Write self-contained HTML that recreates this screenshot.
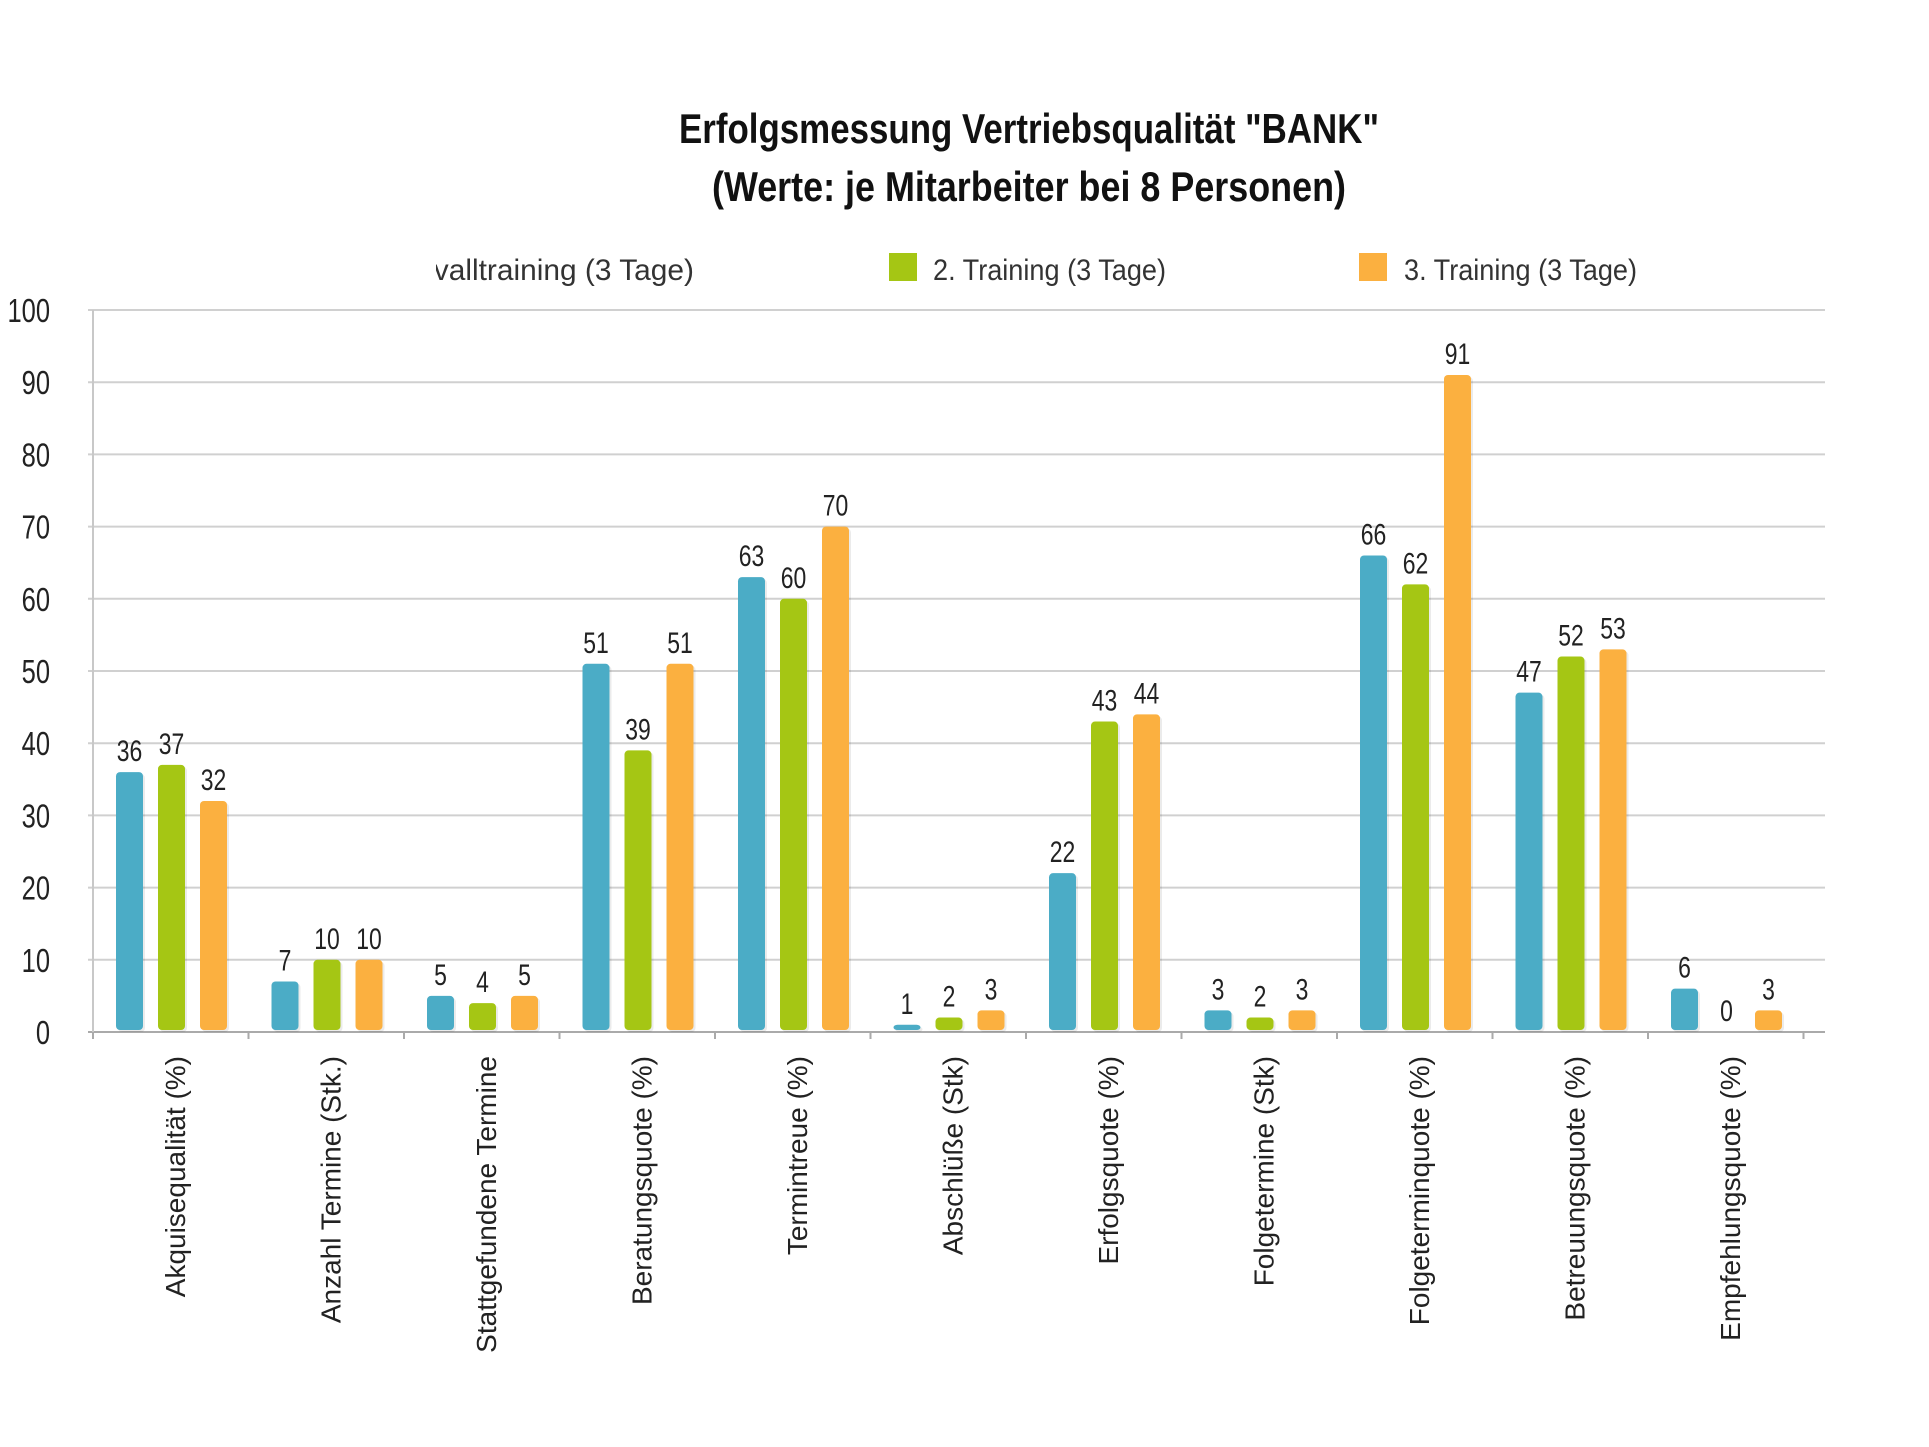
<!DOCTYPE html>
<html><head><meta charset="utf-8"><style>
html,body{margin:0;padding:0;background:#fff;}
svg{display:block;}
text{font-family:"Liberation Sans Narrow","Liberation Sans",sans-serif;}
</style></head><body>
<svg id="chart" width="1929" height="1447" viewBox="0 0 1929 1447" xmlns="http://www.w3.org/2000/svg">
<defs><clipPath id="legclip"><rect x="436" y="240" width="400" height="60"/></clipPath></defs>
<text x="1029" y="143" text-anchor="middle" font-size="42" font-weight="bold" textLength="700" lengthAdjust="spacingAndGlyphs" fill="#111">Erfolgsmessung Vertriebsqualität "BANK"</text>
<text x="1029" y="201" text-anchor="middle" font-size="42" font-weight="bold" textLength="634" lengthAdjust="spacingAndGlyphs" fill="#111">(Werte: je Mitarbeiter bei 8 Personen)</text>
<g>
<text x="694" y="280" text-anchor="end" font-size="30" fill="#333" clip-path="url(#legclip)" textLength="320" lengthAdjust="spacingAndGlyphs">Intervalltraining (3 Tage)</text>
<rect x="889" y="253" width="28" height="28" fill="#a5c614"/>
<text x="933" y="280" font-size="30" fill="#333" textLength="233" lengthAdjust="spacingAndGlyphs">2. Training (3 Tage)</text>
<rect x="1359" y="253" width="28" height="28" fill="#fbb040"/>
<text x="1404" y="280" font-size="30" fill="#333" textLength="233" lengthAdjust="spacingAndGlyphs">3. Training (3 Tage)</text>
</g>
<g id="grid"></g><g id="bars"></g><g id="labels"></g>
</svg>
<script>
const categories = ["Akquisequalität (%)","Anzahl Termine (Stk.)","Stattgefundene Termine","Beratungsquote (%)","Termintreue (%)","Abschlüße (Stk)","Erfolgsquote (%)","Folgetermine (Stk)","Folgeterminquote (%)","Betreuungsquote (%)","Empfehlungsquote (%)"];
const series1 = [36,7,5,51,63,1,22,3,66,47,6];
const series2 = [37,10,4,39,60,2,43,2,62,52,0];
const series3 = [32,10,5,51,70,3,44,3,91,53,3];
const yTicks = [0,10,20,30,40,50,60,70,80,90,100];
const colors = ["#4bacc6","#a5c614","#fbb040"];
const NS="http://www.w3.org/2000/svg";
const X0=93, CW=155.5, Y0=1032, YTOP=310, GR=1825;
const y = v => Y0 - (v/100)*(Y0-YTOP);
const xc = i => X0 + i*CW;
function mk(tag, attrs, parent){const e=document.createElementNS(NS,tag);for(const k in attrs)e.setAttribute(k,attrs[k]);parent.appendChild(e);return e;}
const grid=document.getElementById('grid'), bars=document.getElementById('bars'), labels=document.getElementById('labels');
yTicks.forEach(t=>{
  const l=mk('line',{x1:X0-5,x2:GR,y1:y(t),y2:y(t),stroke:t===0?'#aaa':'#d0d0d0','stroke-width':2},grid);
  
  
  const tx=mk('text',{x:0,y:0,'text-anchor':'end','font-size':30,fill:'#222',transform:`translate(50,${y(t)+12}) scale(0.85,1.1)`},labels);
  tx.textContent=t;
  
  
});
mk('line',{x1:X0,x2:X0,y1:YTOP,y2:Y0+6,stroke:'#c8c8c8','stroke-width':2},grid);
for(let i=0;i<=categories.length;i++){
  const tk=mk('line',{x1:xc(i),x2:xc(i),y1:Y0,y2:Y0+7,stroke:'#aaa','stroke-width':2},grid);
  
  
}
const all=[series1,series2,series3];
categories.forEach((c,i)=>{
  all.forEach((s,k)=>{
    const bx=xc(i)+23+k*42, v=s[i], top=y(v), h=Math.max(Y0-2-top,0);
    if(h>0){
      mk('rect',{x:bx+2,y:top+2,width:27,height:h,rx:4,fill:'#000',opacity:0.08},bars);
      const r=mk('rect',{x:bx,y:top,width:27,height:h,rx:4,fill:colors[k]},bars);
      
      
    }
    const vt=mk('text',{x:0,y:0,'text-anchor':'middle','font-size':27,fill:'#222',transform:`translate(${bx+13.5},${top-11}) scale(0.85,1.1)`},labels);
    vt.textContent=v;
    
    
  });
  const cx=xc(i)+CW/2+4;
  const ct=mk('text',{x:0,y:0,'text-anchor':'end','font-size':28,fill:'#222',transform:`translate(${cx+10},1056) rotate(-90)`},labels);
  ct.textContent=c;
  
  
});
</script>
</body></html>
